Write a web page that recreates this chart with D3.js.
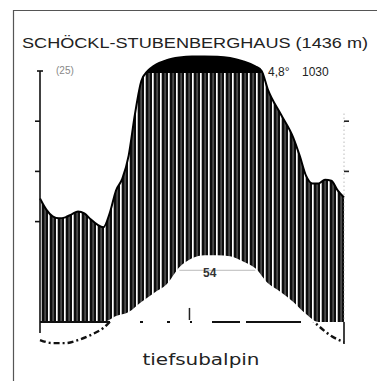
<!DOCTYPE html>
<html>
<head>
<meta charset="utf-8">
<script src="https://cdn.jsdelivr.net/npm/d3@7/dist/d3.min.js"></script>
<style>
  html, body { margin: 0; padding: 0; background: #fff; }
  svg { display: block; }
</style>
</head>
<body>
<svg id="chart" width="377" height="381"></svg>
<script>
// Station header
const stationName = "SCHÖCKL-STUBENBERGHAUS (1436 m)";
const yearsLabel = "(25)";
const annualTempLabel = "4,8°";
const annualPrecipLabel = "1030";
const peakLabel = "54";
const beltLabel = "tiefsubalpin";

// Temperature course (°C) over the year, months 0..12
const tempMonths = [0, 0.5, 1, 1.5, 2, 2.5, 3, 3.5, 4, 4.5, 5, 5.5, 6, 6.5, 7, 7.5, 8, 8.5, 9, 9.5, 10, 10.5, 11, 11.5, 12];
const tempValues = [-3.6, -4.2, -4.2, -3.6, -2.6, -1.2, 1.2, 2.0, 4.0, 5.8, 7.5, 10.9, 12.7, 13.3, 13.3, 13.1, 12.1, 10.7, 7.7, 6.0, 4.0, 1.6, -0.8, -2.8, -4.0];

// Precipitation course (mm) over the year, months 0..12
const precMonths = [0, 0.25, 0.5, 0.75, 1, 1.25, 1.5, 1.75, 2, 2.25, 2.5, 2.75, 3, 3.25, 3.5, 3.75, 4, 4.25, 4.5, 5, 5.5, 6, 6.5, 7, 7.5, 8, 8.5, 8.75, 9, 9.5, 10, 10.25, 10.5, 10.75, 11, 11.25, 11.5, 11.75, 12];
const precValues = [49.2, 44.8, 42.1, 41.3, 41.7, 42.9, 44.0, 43.3, 40.9, 38.9, 37.7, 43.3, 52.4, 57.1, 66.3, 82.9, 96.0, 100, 120, 142, 152, 156, 156, 155, 150, 138, 118, 100, 92.5, 82.9, 73.4, 66.3, 58.3, 55.2, 55.2, 56.7, 56.3, 52.4, 49.6];

// Axis ticks (°C on the left, mm on the right)
const leftTicks = [20, 30, 40];
const rightTicks = [30, 40];
const tempTop = 50;

const svg = d3.select("#chart");

// Scales: 10 °C corresponds to 20 mm; above 100 mm the scale is reduced to 1/10
const x = d3.scaleLinear().domain([0, 12]).range([40, 344]);
const yT = d3.scaleLinear().domain([0, 50]).range([322, 71]);
const yP = d3.scaleLinear().domain([0, 100, 200]).range([322, 71, 45]);

const temp = tempMonths.map((m, i) => ({ m, v: tempValues[i] }));
const prec = precMonths.map((m, i) => ({ m, v: precValues[i] }));

// Frame
svg.append("line").attr("x1", 13).attr("y1", 10.5).attr("x2", 377).attr("y2", 10.5)
  .attr("stroke", "#555").attr("stroke-width", 1.2);
svg.append("line").attr("x1", 13.5).attr("y1", 10).attr("x2", 13.5).attr("y2", 381)
  .attr("stroke", "#555").attr("stroke-width", 1.2);

// Vertical hatching for the humid season
const defs = svg.append("defs");
const pat = defs.append("pattern").attr("id", "hatch")
  .attr("patternUnits", "userSpaceOnUse").attr("width", 8).attr("height", 10);
pat.append("rect").attr("width", 8).attr("height", 10).attr("fill", "#0d0d0d");
pat.append("rect").attr("x", 0).attr("width", 1.7).attr("height", 10).attr("fill", "#fff");
pat.append("rect").attr("x", 4.4).attr("width", 1.4).attr("height", 10).attr("fill", "#5a5a5a");

const curve = d3.curveMonotoneX;

// Humid area: from the baseline up to the precipitation curve (capped at 100 mm)
svg.append("path").datum(prec)
  .attr("d", d3.area().curve(curve)
    .x(d => x(d.m)).y0(yT(0)).y1(d => yP(Math.min(d.v, 100))))
  .attr("fill", "url(#hatch)");

// White space below the temperature curve (above 0 °C)
svg.append("path").datum(temp)
  .attr("d", d3.area().curve(curve)
    .x(d => x(d.m)).y0(yT(0)).y1(d => yT(Math.max(d.v, 0))))
  .attr("fill", "#fff");

// Months above 100 mm, solid black
svg.append("path").datum(prec.filter(d => d.v >= 100))
  .attr("d", d3.area().curve(curve)
    .x(d => x(d.m)).y0(yP(100) + 2).y1(d => yP(d.v)))
  .attr("fill", "#000");

// Precipitation outline
svg.append("path").datum(prec)
  .attr("d", d3.line().curve(curve).x(d => x(d.m)).y(d => yP(d.v)))
  .attr("fill", "none").attr("stroke", "#000").attr("stroke-width", 2);

// Temperature below 0 °C, dashed
defs.append("clipPath").attr("id", "below")
  .append("rect").attr("x", 0).attr("y", yT(0)).attr("width", 377).attr("height", 60);
svg.append("path").datum(temp)
  .attr("clip-path", "url(#below)")
  .attr("d", d3.line().curve(curve).x(d => x(d.m)).y(d => yT(d.v)))
  .attr("fill", "none").attr("stroke", "#111").attr("stroke-width", 2.4)
  .attr("stroke-dasharray", "6,3,2,3");

// Zero line
svg.append("line").attr("x1", x(0)).attr("x2", x(12)).attr("y1", yT(0)).attr("y2", yT(0))
  .attr("stroke", "#111").attr("stroke-width", 1.8)
  .attr("stroke-dasharray", "70,30,3,24,3,20,2,20,28,6,55");
svg.append("line").attr("x1", x(5.9)).attr("x2", x(5.9)).attr("y1", yT(0) - 2).attr("y2", yT(2.8))
  .attr("stroke", "#222").attr("stroke-width", 1.5);

// Faint guide through the peak label
svg.append("line").attr("x1", x(5.5)).attr("x2", x(8.5)).attr("y1", yT(10.3)).attr("y2", yT(10.3))
  .attr("stroke", "#bbb").attr("stroke-width", 1);

// Left axis
svg.append("line").attr("x1", x(0)).attr("x2", x(0)).attr("y1", yT(tempTop)).attr("y2", yT(-2.2))
  .attr("stroke", "#111").attr("stroke-width", 1.6);
svg.append("line").attr("x1", x(0) - 3).attr("x2", x(0) + 3).attr("y1", yT(tempTop)).attr("y2", yT(tempTop))
  .attr("stroke", "#111").attr("stroke-width", 1.6);
svg.selectAll(".ltick").data(leftTicks).enter().append("line")
  .attr("x1", x(0) - 5).attr("x2", x(0)).attr("y1", d => yT(d)).attr("y2", d => yT(d))
  .attr("stroke", "#111").attr("stroke-width", 1.6);

// Right axis
svg.append("line").attr("x1", x(12)).attr("x2", x(12)).attr("y1", yT(41.5)).attr("y2", yT(0))
  .attr("stroke", "#999").attr("stroke-width", 1).attr("stroke-dasharray", "1,3");
svg.append("line").attr("x1", x(12)).attr("x2", x(12)).attr("y1", yT(0)).attr("y2", yT(-4.4))
  .attr("stroke", "#111").attr("stroke-width", 1.6);
svg.selectAll(".rtick").data(rightTicks).enter().append("line")
  .attr("x1", x(12)).attr("x2", x(12) + 5).attr("y1", d => yT(d)).attr("y2", d => yT(d))
  .attr("stroke", "#222").attr("stroke-width", 1.6);

// Texts
const font = "'Liberation Sans', Arial, sans-serif";
svg.append("text").attr("x", 22).attr("y", 48)
  .attr("textLength", 346).attr("lengthAdjust", "spacingAndGlyphs")
  .style("font-family", font).style("font-size", "14.5px").attr("fill", "#222")
  .text(stationName);
svg.append("text").attr("x", 56).attr("y", 74)
  .style("font-family", font).style("font-size", "10px").attr("fill", "#888")
  .text(yearsLabel);
svg.append("text").attr("x", 268).attr("y", 76)
  .style("font-family", font).style("font-size", "12px").attr("fill", "#222")
  .text(annualTempLabel);
svg.append("text").attr("x", 302).attr("y", 76)
  .style("font-family", font).style("font-size", "12px").attr("fill", "#222")
  .text(annualPrecipLabel);
svg.append("text").attr("x", 203).attr("y", 277)
  .style("font-family", font).style("font-size", "12px").style("font-weight", "bold").attr("fill", "#333")
  .text(peakLabel);
svg.append("text").attr("x", 201).attr("y", 365).attr("text-anchor", "middle")
  .attr("textLength", 117).attr("lengthAdjust", "spacingAndGlyphs")
  .style("font-family", "'DejaVu Sans', sans-serif").style("font-size", "16px").attr("fill", "#222")
  .text(beltLabel);
</script>
</body>
</html>
